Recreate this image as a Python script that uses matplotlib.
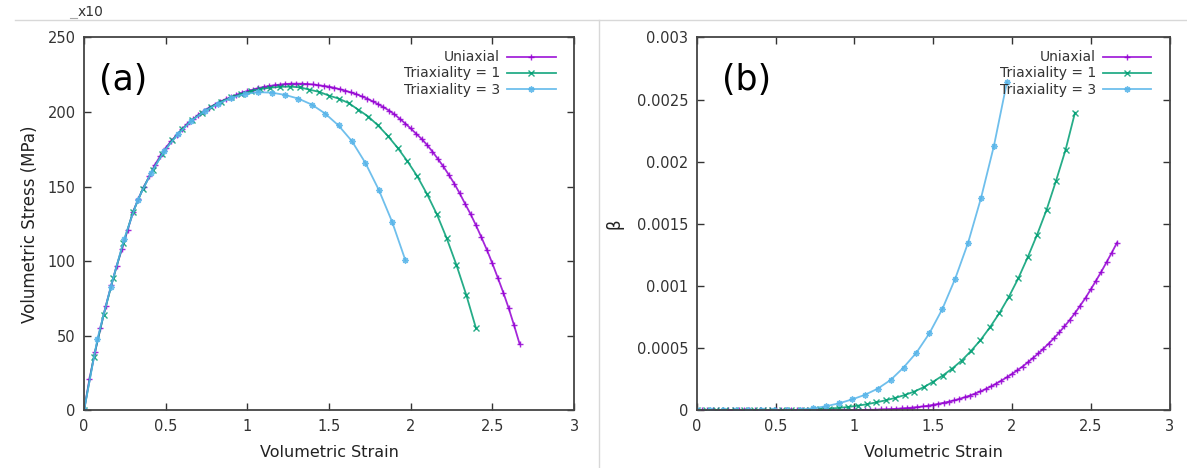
import numpy as np
import matplotlib.pyplot as plt
from matplotlib.lines import Line2D

# strain values (same for both panels)
strain_uni = [0.0, 0.033, 0.067, 0.1, 0.133, 0.167, 0.2, 0.233, 0.267, 0.3,
              0.333, 0.367, 0.4, 0.433, 0.467, 0.5, 0.533, 0.567, 0.6, 0.633,
              0.667, 0.7, 0.733, 0.767, 0.8, 0.833, 0.867, 0.9, 0.933, 0.967,
              1.0, 1.033, 1.067, 1.1, 1.133, 1.167, 1.2, 1.233, 1.267, 1.3,
              1.333, 1.367, 1.4, 1.433, 1.467, 1.5, 1.533, 1.567, 1.6, 1.633,
              1.667, 1.7, 1.733, 1.767, 1.8, 1.833, 1.867, 1.9, 1.933, 1.967,
              2.0, 2.033, 2.067, 2.1, 2.133, 2.167, 2.2, 2.233, 2.267, 2.3,
              2.333, 2.367, 2.4, 2.433, 2.467, 2.5, 2.533, 2.567, 2.6, 2.633, 2.667]
stress_uni = [0, 21, 39, 55, 70, 84, 97, 108.5, 121, 133,
              142, 150, 157, 164.5, 170.5, 176, 180.5, 184.5, 188.5, 192,
              195, 198, 200.5, 203, 205, 207, 208.5, 210, 211.5, 213,
              214, 215, 216, 216.8, 217.4, 218, 218.4, 218.8, 219, 219,
              219, 218.8, 218.5, 218, 217.5, 217, 216.2, 215.3, 214.3, 213.2,
              212, 210.5, 209, 207.2, 205.3, 203.3, 201, 198.5, 195.5, 192.3,
              189, 185.5, 182, 178, 173.5, 168.5, 163.5, 158, 152, 145.5,
              138.5, 131.5, 124, 116, 107.5, 98.5, 89, 79, 68.5, 57, 44.5]
beta_uni = [0, 0, 0, 0, 0, 0, 0, 0, 0, 0,
            0, 0, 0, 0, 0, 0, 0, 0, 0, 0,
            0, 0, 0, 0, 0, 0.000001, 0.0000012, 0.0000015, 0.000002, 0.0000025,
            0.000003, 0.0000035, 0.000004, 0.000005, 0.000006, 0.000008, 0.000009, 0.000011, 0.000013, 0.000016,
            0.000019, 0.000023, 0.000027, 0.000032, 0.000038, 0.000045, 0.000053, 0.000062, 0.000071, 0.000081,
            0.000093, 0.000106, 0.00012, 0.000136, 0.000153, 0.000172, 0.000193, 0.000216, 0.00024, 0.000266,
            0.000293, 0.000322, 0.000353, 0.000386, 0.000421, 0.000458, 0.000497, 0.000538, 0.000581, 0.000627,
            0.000676, 0.000728, 0.000783, 0.000843, 0.000906, 0.000973, 0.001043, 0.001116, 0.001192, 0.001268, 0.00135]

strain_t1 = [0.0, 0.06, 0.12, 0.18, 0.24, 0.3, 0.36, 0.42, 0.48, 0.54,
             0.6, 0.66, 0.72, 0.78, 0.84, 0.9, 0.96, 1.02, 1.08, 1.14,
             1.2, 1.26, 1.32, 1.38, 1.44, 1.5, 1.56, 1.62, 1.68, 1.74,
             1.8, 1.86, 1.92, 1.98, 2.04, 2.1, 2.16, 2.22, 2.28, 2.34, 2.4]
stress_t1 = [0, 36, 64, 89, 112, 133, 148.5, 161, 172, 181,
             188.5, 194.5, 199.5, 203.5, 207, 209.8, 212, 214, 215.4, 216.3,
             216.9, 217, 216.6, 215, 213.5, 211, 209, 206, 201.5, 197,
             191, 184, 176, 167, 157, 145, 131.5, 115.5, 97.5, 77.5, 55]
beta_t1 = [0, 0, 0, 0, 0, 0, 0, 0, 0, 0,
           0, 0.000002, 0.000004, 0.000008, 0.000015, 0.00002, 0.000028, 0.000038, 0.00005, 0.000065,
           0.000082, 0.000101, 0.000124, 0.000152, 0.000187, 0.000231, 0.00028, 0.000336, 0.0004, 0.000478,
           0.000565, 0.000668, 0.000782, 0.000913, 0.001062, 0.001232, 0.001415, 0.001615, 0.001848, 0.002095, 0.002395]

strain_t3 = [0.0, 0.082, 0.164, 0.246, 0.328, 0.41, 0.492, 0.574, 0.656, 0.738,
             0.82, 0.902, 0.984, 1.066, 1.148, 1.23, 1.312, 1.394, 1.476, 1.558,
             1.64, 1.722, 1.804, 1.886, 1.968]
stress_t3 = [0, 48, 83, 115, 141, 159, 174, 185, 194, 200.5,
             205.5, 209.5, 212, 213.3, 213, 211.5, 209, 205, 199, 191,
             180.5, 166, 148, 126.5, 100.5]
beta_t3 = [0, 0, 0, 0, 0, 0, 0, 0, 0.000007, 0.000017,
           0.000034, 0.000057, 0.000088, 0.000125, 0.000175, 0.000245, 0.000345, 0.000465, 0.00062, 0.000815,
           0.00106, 0.00135, 0.00171, 0.00213, 0.00264]

labels = ['Uniaxial', 'Triaxiality = 1', 'Triaxiality = 3']
colors = ['#9400d3', '#009e73', '#56b4e9']
markers = ['+', 'x', (8, 2, 0)]

x_ticks = [0, 0.5, 1, 1.5, 2, 2.5, 3]
x_ticklabels = ['0', '0.5', '1', '1.5', '2', '2.5', '3']
stress_ticks = [0, 50, 100, 150, 200, 250]
beta_ticks = [0, 0.0005, 0.001, 0.0015, 0.002, 0.0025, 0.003]
beta_ticklabels = ['0', '0.0005', '0.001', '0.0015', '0.002', '0.0025', '0.003']

plt.rcParams['font.family'] = ['DejaVu Sans']
fig = plt.figure(figsize=(11.87, 4.68), dpi=100)
ax1 = fig.add_axes([0.0708, 0.123, 0.4128, 0.797])
ax2 = fig.add_axes([0.587, 0.123, 0.3983, 0.797])

strains = [strain_uni, strain_t1, strain_t3]
for ax, ys in [(ax1, [stress_uni, stress_t1, stress_t3]),
               (ax2, [beta_uni, beta_t1, beta_t3])]:
    for x, y, lab, c, m in zip(strains, ys, labels, colors, markers):
        ax.plot(x, y, color=c, marker=m, markersize=4.5, markeredgewidth=1.0,
                linewidth=1.3, alpha=0.85, label=lab)
    ax.set_xlim(0, 3)
    ax.set_xticks(x_ticks)
    ax.set_xticklabels(x_ticklabels)
    ax.tick_params(direction='in', length=5, width=1, top=True, right=True,
                   labelsize=10.5, colors='#333333', pad=6)
    for s in ax.spines.values():
        s.set_color('#444444')
        s.set_linewidth(1.3)
    ax.set_xlabel('Volumetric Strain', fontsize=11.5, color='#222222', labelpad=8)
    ax.legend(loc='upper right', bbox_to_anchor=(0.985, 0.995), frameon=False,
              markerfirst=False, handlelength=3.5, fontsize=10, labelspacing=0.15,
              borderpad=0.3, handletextpad=0.5, labelcolor='#333333')

ax1.set_ylim(0, 250)
ax1.set_yticks(stress_ticks)
ax1.set_ylabel('Volumetric Stress (MPa)', fontsize=12, color='#222222', labelpad=6)
ax1.text(0.03, 0.885, '(a)', transform=ax1.transAxes, fontsize=25, va='center', ha='left')

ax2.set_ylim(0, 0.003)
ax2.set_yticks(beta_ticks)
ax2.set_yticklabels(beta_ticklabels)
ax2.set_ylabel('β', fontsize=12, color='#222222', labelpad=10)
ax2.text(0.053, 0.885, '(b)', transform=ax2.transAxes, fontsize=25, va='center', ha='left')

# separators and the stray "x10" from the source figure
fig.add_artist(Line2D([0.013, 1.0], [0.957, 0.957], color='#d8d8d8', linewidth=1))
fig.add_artist(Line2D([0.505, 0.505], [0.0, 0.957], color='#d8d8d8', linewidth=1))
fig.add_artist(Line2D([0.059, 0.065], [0.962, 0.962], color='#aaaaaa', linewidth=0.8))
fig.text(0.065, 0.96, 'x10', fontsize=10, color='#333333', va='bottom', ha='left')

fig.savefig('out.png', dpi=100)
